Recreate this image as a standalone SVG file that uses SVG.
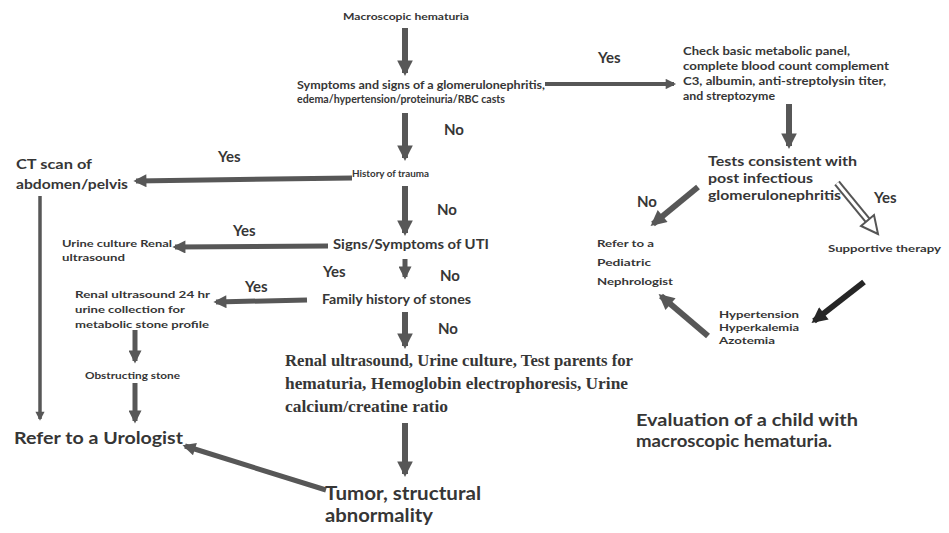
<svg xmlns="http://www.w3.org/2000/svg" width="949" height="533" viewBox="0 0 949 533">
  <style>
    .t { font-family: Lato, "Liberation Sans", Arial, sans-serif; font-weight: bold; fill: #363636; }
    .s { font-family: "Liberation Serif", "Times New Roman", serif; font-weight: bold; fill: #363636; }
    .yn { font-family: Lato, "Liberation Sans", Arial, sans-serif; font-weight: bold; fill: #363636; font-size: 15px; }
    .a { stroke: #575757; fill: none; marker-end: url(#head); }
    .dark { stroke: #262626; fill: none; marker-end: url(#headDark); }
  </style>
  <defs>
    <marker id="head" viewBox="0 0 10 10" refX="8" refY="5" markerWidth="3" markerHeight="2.6" orient="auto" markerUnits="strokeWidth">
      <path d="M0,0 L10,5 L0,10 z" fill="#575757"/>
    </marker>
    <marker id="headDark" viewBox="0 0 10 10" refX="8" refY="5" markerWidth="3" markerHeight="2.6" orient="auto" markerUnits="strokeWidth">
      <path d="M0,0 L10,5 L0,10 z" fill="#262626"/>
    </marker>
  </defs>
  <rect width="949" height="533" fill="#ffffff"/>

  <g id="connectors">
    <!-- main vertical spine -->
    <line class="a" x1="405" y1="28" x2="405" y2="73" stroke-width="6"/>
    <line class="a" x1="405" y1="113" x2="405" y2="158" stroke-width="6"/>
    <line class="a" x1="405" y1="186" x2="405" y2="233" stroke-width="6"/>
    <line class="a" x1="405" y1="259" x2="405" y2="277" stroke-width="5"/>
    <line class="a" x1="405" y1="312" x2="405" y2="346" stroke-width="6"/>
    <line class="a" x1="405" y1="423" x2="405" y2="474" stroke-width="6"/>
    <!-- branches to the left and right -->
    <line class="a" x1="545" y1="84" x2="674" y2="84" stroke-width="4"/>
    <line class="a" x1="352" y1="178" x2="136" y2="181" stroke-width="5"/>
    <line class="a" x1="328" y1="246" x2="175" y2="247" stroke-width="5"/>
    <line class="a" x1="307" y1="300" x2="216" y2="302" stroke-width="5"/>
    <line class="a" x1="40" y1="196" x2="40" y2="419" stroke-width="3.5"/>
    <line class="a" x1="135" y1="330" x2="135" y2="361" stroke-width="5"/>
    <line class="a" x1="135" y1="383" x2="135" y2="421" stroke-width="5"/>
    <line class="a" x1="326" y1="490" x2="185" y2="446" stroke-width="5"/>
    <!-- glomerulonephritis work-up cycle -->
    <line class="a" x1="789" y1="104" x2="789" y2="146" stroke-width="6"/>
    <line class="a" x1="698" y1="187" x2="653" y2="224" stroke-width="6"/>
    <g id="hollow-arrow">
      <line x1="837" y1="183" x2="869" y2="222" stroke="#555" stroke-width="7"/>
      <line x1="837" y1="183" x2="869" y2="222" stroke="#fff" stroke-width="3"/>
      <polygon points="878,234 861,226 874,215" fill="#fff" stroke="#555" stroke-width="2"/>
    </g>
    <line class="dark" x1="864" y1="282" x2="814" y2="321" stroke-width="6"/>
    <line class="a" x1="708" y1="336" x2="661" y2="296" stroke-width="6"/>
  </g>

  <!-- branch labels -->
  <g id="labels">
    <text class="yn" x="598" y="63">Yes</text>
    <text class="yn" x="444" y="135">No</text>
    <text class="yn" x="218" y="162">Yes</text>
    <text class="yn" x="437" y="215">No</text>
    <text class="yn" x="233" y="236">Yes</text>
    <text class="yn" x="323" y="277">Yes</text>
    <text class="yn" x="440" y="281">No</text>
    <text class="yn" x="245" y="292">Yes</text>
    <text class="yn" x="438" y="334">No</text>
    <text class="yn" x="637" y="207">No</text>
    <text class="yn" x="874" y="203">Yes</text>
  </g>

  <g id="n-macroscopic">
    <text class="t" x="343" y="20" font-size="10" textLength="126" lengthAdjust="spacingAndGlyphs">Macroscopic hematuria</text>
  </g>
  <g id="n-symptoms">
    <text class="t" x="297" y="89" font-size="10.5" textLength="248" lengthAdjust="spacingAndGlyphs">Symptoms and signs of a glomerulonephritis,</text>
    <text class="t" x="297" y="103" font-size="10.5" textLength="208" lengthAdjust="spacingAndGlyphs">edema/hypertension/proteinuria/RBC casts</text>
  </g>
  <g id="n-check">
    <text class="t" x="683" y="55" font-size="11" textLength="167" lengthAdjust="spacingAndGlyphs">Check basic metabolic panel,</text>
    <text class="t" x="683" y="70" font-size="11" textLength="206" lengthAdjust="spacingAndGlyphs">complete blood count complement</text>
    <text class="t" x="683" y="85" font-size="11" textLength="203" lengthAdjust="spacingAndGlyphs">C3, albumin, anti-streptolysin titer,</text>
    <text class="t" x="683" y="100" font-size="11" textLength="92" lengthAdjust="spacingAndGlyphs">and streptozyme</text>
  </g>
  <g id="n-tests">
    <text class="t" x="708" y="166" font-size="14" textLength="149" lengthAdjust="spacingAndGlyphs">Tests consistent with</text>
    <text class="t" x="708" y="183" font-size="14" textLength="105" lengthAdjust="spacingAndGlyphs">post infectious</text>
    <text class="t" x="708" y="200" font-size="14" textLength="133" lengthAdjust="spacingAndGlyphs">glomerulonephritis</text>
  </g>
  <g id="n-nephrologist">
    <text class="t" x="597" y="247" font-size="10" textLength="57" lengthAdjust="spacingAndGlyphs">Refer to a</text>
    <text class="t" x="597" y="266" font-size="10" textLength="54" lengthAdjust="spacingAndGlyphs">Pediatric</text>
    <text class="t" x="597" y="285" font-size="10" textLength="76" lengthAdjust="spacingAndGlyphs">Nephrologist</text>
  </g>
  <g id="n-supportive">
    <text class="t" x="828" y="252" font-size="10" textLength="113" lengthAdjust="spacingAndGlyphs">Supportive therapy</text>
  </g>
  <g id="n-hypertension">
    <text class="t" x="719" y="318" font-size="10" textLength="80" lengthAdjust="spacingAndGlyphs">Hypertension</text>
    <text class="t" x="719" y="331" font-size="10" textLength="80" lengthAdjust="spacingAndGlyphs">Hyperkalemia</text>
    <text class="t" x="719" y="344" font-size="10" textLength="56" lengthAdjust="spacingAndGlyphs">Azotemia</text>
  </g>
  <g id="n-trauma">
    <text class="t" x="352" y="177" font-size="10" textLength="77" lengthAdjust="spacingAndGlyphs">History of trauma</text>
  </g>
  <g id="n-ct">
    <text class="t" x="16" y="169" font-size="14" textLength="76" lengthAdjust="spacingAndGlyphs">CT scan of</text>
    <text class="t" x="16" y="189" font-size="14" textLength="112" lengthAdjust="spacingAndGlyphs">abdomen/pelvis</text>
  </g>
  <g id="n-uti">
    <text class="t" x="333" y="249" font-size="12.5" textLength="156" lengthAdjust="spacingAndGlyphs">Signs/Symptoms of UTI</text>
  </g>
  <g id="n-urine-culture">
    <text class="t" x="62" y="247" font-size="9.5" textLength="110" lengthAdjust="spacingAndGlyphs">Urine culture Renal</text>
    <text class="t" x="62" y="261" font-size="9.5" textLength="63" lengthAdjust="spacingAndGlyphs">ultrasound</text>
  </g>
  <g id="n-family">
    <text class="t" x="322" y="304" font-size="12.5" textLength="149" lengthAdjust="spacingAndGlyphs">Family history of stones</text>
  </g>
  <g id="n-renal24">
    <text class="t" x="75" y="298" font-size="9.5" textLength="135" lengthAdjust="spacingAndGlyphs">Renal ultrasound 24 hr</text>
    <text class="t" x="75" y="313" font-size="9.5" textLength="110" lengthAdjust="spacingAndGlyphs">urine collection for</text>
    <text class="t" x="75" y="328" font-size="9.5" textLength="134" lengthAdjust="spacingAndGlyphs">metabolic stone profile</text>
  </g>
  <g id="n-obstructing">
    <text class="t" x="85" y="379" font-size="9.5" textLength="95" lengthAdjust="spacingAndGlyphs">Obstructing stone</text>
  </g>
  <g id="n-urologist">
    <text class="t" x="14" y="444" font-size="17" textLength="169" lengthAdjust="spacingAndGlyphs">Refer to a Urologist</text>
  </g>
  <g id="n-renal-tests">
    <text class="s" x="285" y="366" font-size="16" textLength="348" lengthAdjust="spacingAndGlyphs">Renal ultrasound, Urine culture, Test parents for</text>
    <text class="s" x="285" y="389" font-size="16" textLength="343" lengthAdjust="spacingAndGlyphs">hematuria, Hemoglobin electrophoresis, Urine</text>
    <text class="s" x="285" y="412" font-size="16" textLength="163" lengthAdjust="spacingAndGlyphs">calcium/creatine ratio</text>
  </g>
  <g id="n-tumor">
    <text class="t" x="325" y="500" font-size="18" textLength="156" lengthAdjust="spacingAndGlyphs">Tumor, structural</text>
    <text class="t" x="325" y="522" font-size="18" textLength="108" lengthAdjust="spacingAndGlyphs">abnormality</text>
  </g>
  <g id="caption">
    <text class="t" x="636" y="426" font-size="17" textLength="222" lengthAdjust="spacingAndGlyphs">Evaluation of a child with</text>
    <text class="t" x="636" y="447" font-size="17" textLength="196" lengthAdjust="spacingAndGlyphs">macroscopic hematuria.</text>
  </g>
</svg>
